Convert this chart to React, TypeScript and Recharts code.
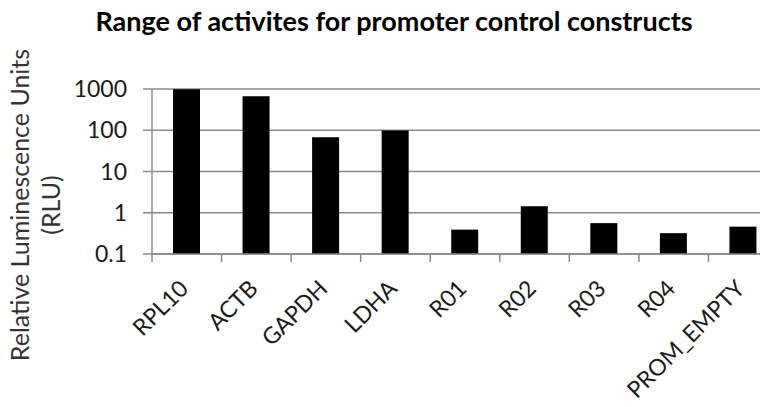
import { Bar, BarChart, CartesianGrid, Label, XAxis, YAxis } from "recharts";

const constructs = ["RPL10", "ACTB", "GAPDH", "LDHA", "R01", "R02", "R03", "R04", "PROM_EMPTY"];
const rlu = [980, 670, 68, 99, 0.39, 1.44, 0.56, 0.32, 0.46];
const yTicks = [0.1, 1, 10, 100, 1000];

const data = constructs.map((name, i) => ({ name, rlu: rlu[i] }));

const font = "Lato, 'Noto Sans', sans-serif";
const grey = "#8a8a8a";
const halfBand = 34.78;

const XTick = (props: any) => {
  const { x, y, payload } = props;
  const tx = x + 3;
  const ty = y + 28;
  return (
    <g>
      <line x1={x - halfBand} x2={x - halfBand} y1={y - 8} y2={y} stroke={grey} strokeWidth={1.5} />
      <text
        x={tx}
        y={ty}
        transform={`rotate(-45, ${tx}, ${ty})`}
        textAnchor="end"
        fontSize={23}
        fontFamily={font}
        fill="#1a1a1a"
      >
        {payload.value}
      </text>
    </g>
  );
};

const YLabel = () => (
  <g fontFamily={font} fontSize={25} fill="#333">
    <text x={29} y={205} transform="rotate(-90, 29, 205)" textAnchor="middle">
      Relative Luminescence Units
    </text>
    <text x={60} y={205} transform="rotate(-90, 60, 205)" textAnchor="middle">
      (RLU)
    </text>
  </g>
);

export default function App() {
  return (
    <div style={{ position: "absolute", left: 0, top: 0, width: 760, height: 407, overflow: "hidden", background: "#fff" }}>
      <div
        style={{
          position: "absolute",
          left: 0,
          top: 4,
          width: 788,
          textAlign: "center",
          fontFamily: font,
          fontWeight: 700,
          fontSize: 27,
          color: "#000",
        }}
      >
        Range of activites for promoter control constructs
      </div>
      <BarChart width={800} height={407} data={data} margin={{ top: 89, right: 22, left: 0, bottom: 0 }}>
        <CartesianGrid vertical={false} stroke={grey} strokeWidth={1.5} />
        <XAxis
          dataKey="name"
          height={153}
          interval={0}
          tickSize={8}
          tickMargin={0}
          tickLine={false}
          axisLine={{ stroke: grey, strokeWidth: 1.5 }}
          tick={<XTick />}
        />
        <YAxis
          scale="log"
          domain={[0.1, 1000]}
          ticks={yTicks}
          allowDataOverflow
          width={152}
          tickSize={9}
          tickMargin={16}
          axisLine={{ stroke: grey, strokeWidth: 1.5 }}
          tickLine={{ stroke: grey, strokeWidth: 1.5 }}
          tick={{ fontSize: 23, fontFamily: font, fill: "#1a1a1a" }}
        >
          <Label content={<YLabel />} />
        </YAxis>
        <Bar dataKey="rlu" fill="#000" barSize={27} isAnimationActive={false} />
      </BarChart>
    </div>
  );
}
